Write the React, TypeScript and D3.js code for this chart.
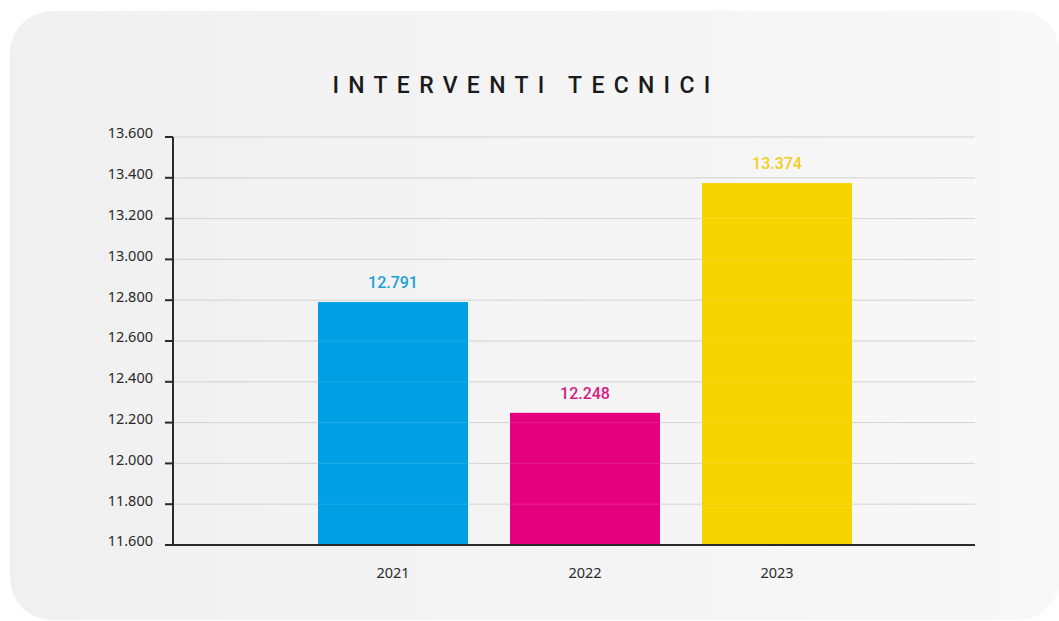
import React from "react";
import * as d3 from "d3";

const categories = ["2021", "2022", "2023"];
const values = [12791, 12248, 13374];
const barColors = ["#009fe3", "#e5007e", "#f5d400"];
const labelColors = ["#1aa0d8", "#d81a85", "#efcf1c"];
const yTicks = [11600, 11800, 12000, 12200, 12400, 12600, 12800, 13000, 13200, 13400, 13600];
const title = "INTERVENTI TECNICI";

const fmt = (v: number) => {
  const s = String(v);
  return s.replace(/\B(?=(\d{3})+(?!\d))/g, ".");
};

export default function App() {
  const W = 1059;
  const H = 621;
  const axisX = 173;
  const rightX = 975;
  const y = d3.scaleLinear().domain([11600, 13600]).range([545, 137]);
  const x = d3
    .scaleBand<string>()
    .domain(categories)
    .range([297, 873])
    .paddingInner(42 / 192)
    .paddingOuter(21 / 192);
  const font = "'Noto Sans', 'Open Sans', sans-serif";

  return (
    <svg
      width={W}
      height={H}
      style={{ position: "absolute", left: 0, top: 0, display: "block" }}
    >
      <defs>
        <linearGradient id="bg" x1="0" y1="0" x2="1" y2="0">
          <stop offset="0" stopColor="#f0f0f0" />
          <stop offset="1" stopColor="#f8f8f8" />
        </linearGradient>
      </defs>
      <rect x={0} y={0} width={W} height={H} fill="#ffffff" />
      <rect x={10} y={11} width={1050} height={609} rx={42} ry={42} fill="url(#bg)" />

      <text
        x={526}
        y={93}
        textAnchor="middle"
        fontFamily="Roboto, sans-serif"
        fontSize={23}
        fontWeight={500}
        letterSpacing={9.3}
        fill="#1a1a1a"
      >
        {title}
      </text>

      {yTicks.map((t) => (
        <g key={t}>
          {t !== 11600 && (
            <line x1={axisX} x2={rightX} y1={y(t)} y2={y(t)} stroke="#cfcfcf" strokeWidth={1} />
          )}
          <line x1={165} x2={axisX} y1={y(t)} y2={y(t)} stroke="#2a2a2a" strokeWidth={2} />
          <text
            x={153}
            y={y(t)}
            dy="0.1em"
            textAnchor="end"
            fontFamily={font}
            fontSize={14.5}
            fill="#2a2a2a"
          >
            {fmt(t)}
          </text>
        </g>
      ))}

      {categories.map((c, i) => (
        <g key={c}>
          <rect
            x={x(c)!}
            y={y(values[i])}
            width={x.bandwidth()}
            height={y(11600) - y(values[i])}
            fill={barColors[i]}
          />
          <text
            x={x(c)! + x.bandwidth() / 2}
            y={y(values[i]) - 14}
            textAnchor="middle"
            fontFamily="Roboto, sans-serif"
            fontSize={16}
            fontWeight={500}
            fill={labelColors[i]}
          >
            {fmt(values[i])}
          </text>
          <text
            x={x(c)! + x.bandwidth() / 2}
            y={578}
            textAnchor="middle"
            fontFamily={font}
            fontSize={14.5}
            fill="#2a2a2a"
          >
            {c}
          </text>
        </g>
      ))}

      {yTicks
        .filter((t) => t !== 11600)
        .map((t) => (
          <line
            key={"o" + t}
            x1={axisX}
            x2={rightX}
            y1={y(t)}
            y2={y(t)}
            stroke="#ffffff"
            strokeOpacity={0.12}
            strokeWidth={1}
          />
        ))}

      <line x1={axisX} x2={axisX} y1={y(13600)} y2={y(11600) + 1} stroke="#2a2a2a" strokeWidth={2} />
      <line x1={axisX - 1} x2={rightX} y1={y(11600)} y2={y(11600)} stroke="#2a2a2a" strokeWidth={2} />
    </svg>
  );
}
